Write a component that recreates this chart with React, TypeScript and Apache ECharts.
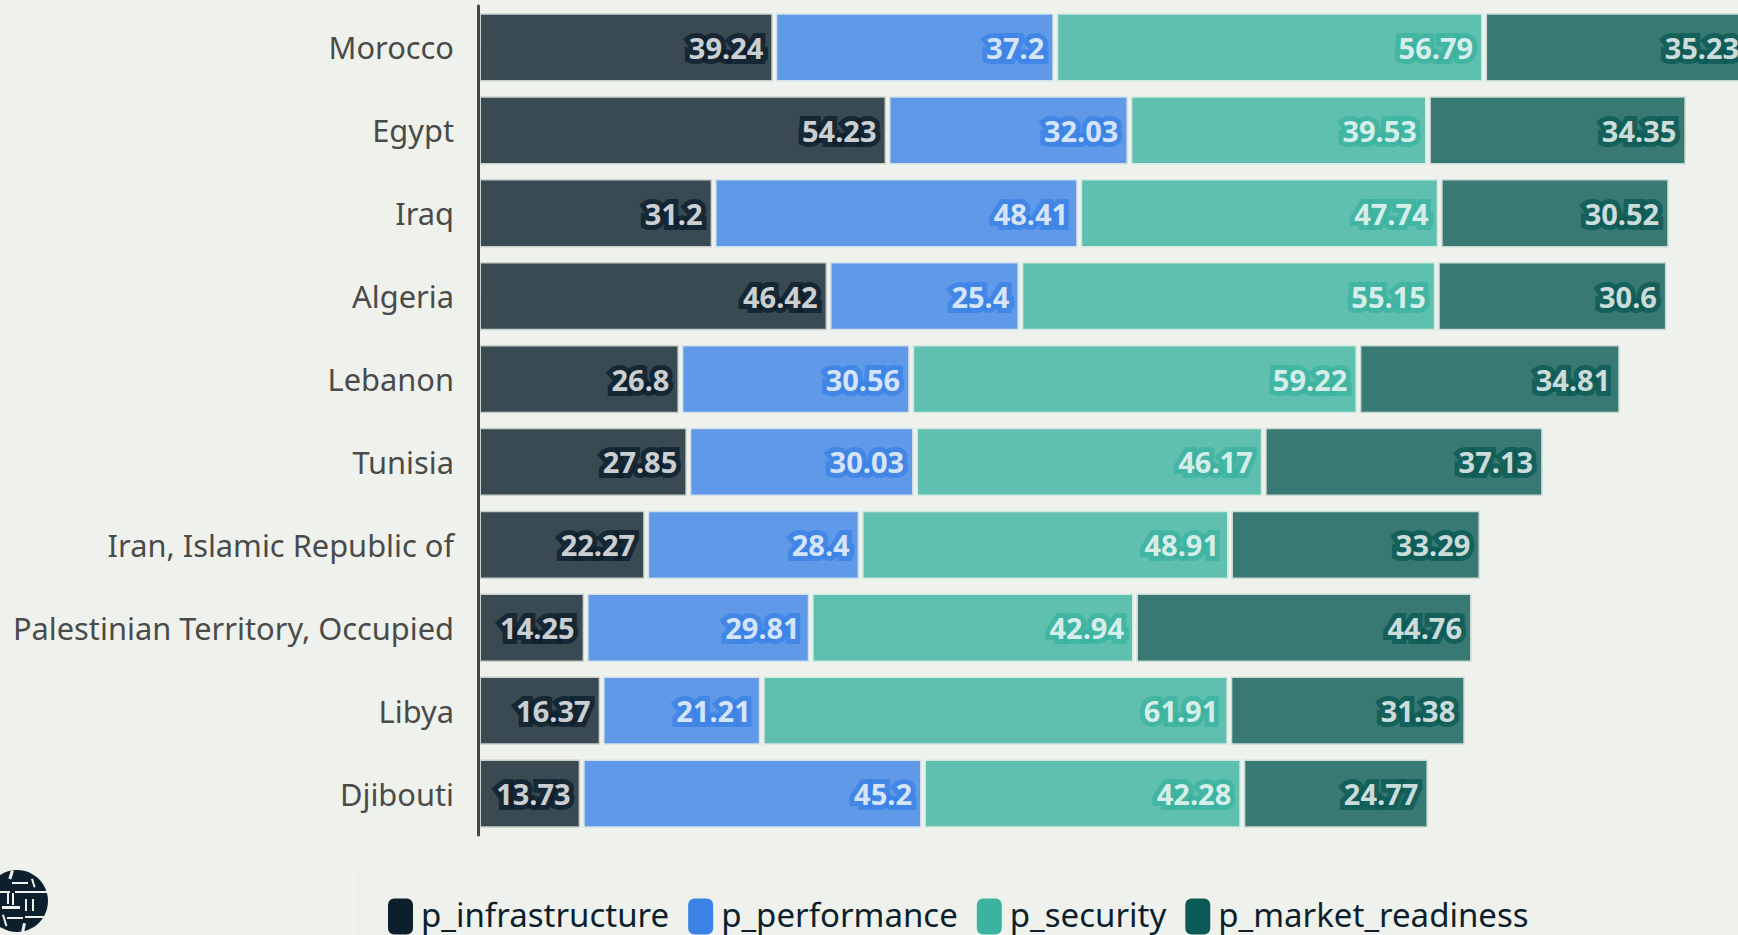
import React, { useEffect, useRef } from "react";
import * as echarts from "echarts";

const countries = ["Morocco", "Egypt", "Iraq", "Algeria", "Lebanon", "Tunisia", "Iran, Islamic Republic of", "Palestinian Territory, Occupied", "Libya", "Djibouti"];
const infrastructure = [39.24, 54.23, 31.2, 46.42, 26.8, 27.85, 22.27, 14.25, 16.37, 13.73];
const performance_ = [37.2, 32.03, 48.41, 25.4, 30.56, 30.03, 28.4, 29.81, 21.21, 45.2];
const security = [56.79, 39.53, 47.74, 55.15, 59.22, 46.17, 48.91, 42.94, 61.91, 42.28];
const marketReadiness = [35.23, 34.35, 30.52, 30.6, 34.81, 37.13, 33.29, 44.76, 31.38, 24.77];
const FONT = "'Noto Sans', sans-serif";
const BG = "#EFF2EC";
const INK = "#0D1F2D";

const seriesDefs = [
  { name: "p_infrastructure", color: INK, data: infrastructure },
  { name: "p_performance", color: "#3B82E6", data: performance_ },
  { name: "p_security", color: "#3BB3A0", data: security },
  { name: "p_market_readiness", color: "#0B5A55", data: marketReadiness },
];

const bar = (x: number, y: number, width: number, height: number, rotation = 0) => ({
  type: "rect", x, y, rotation, shape: { x: 0, y: 0, width, height }, style: { fill: BG }, silent: true,
});

export default function App() {
  const ref = useRef<HTMLDivElement>(null);
  useEffect(() => {
    document.body.style.margin = "0";
    document.body.style.background = BG;
    const chart = echarts.init(ref.current!, undefined, { renderer: "svg" });
    chart.setOption({
      animation: false,
      backgroundColor: BG,
      grid: { left: 478, top: 6, width: 1280, height: 829, containLabel: false },
      xAxis: { type: "value", min: 0, max: 169.5, show: false },
      yAxis: {
        type: "category",
        inverse: true,
        data: countries,
        z: 10,
        axisLine: { lineStyle: { color: "#444", width: 3 } },
        axisTick: { length: 16, alignWithLabel: true, lineStyle: { color: "#444", width: 2 } },
        axisLabel: { margin: 24, fontSize: 30.8, fontFamily: FONT, color: "#4A4A4A" },
      },
      legend: {
        left: 388, top: 898, padding: 0,
        itemWidth: 25, itemHeight: 36, itemGap: 19, icon: "roundRect",
        formatter: "{t|{name}}",
        textStyle: {
          fontSize: 33, fontFamily: FONT, color: INK,
          rich: { t: { fontSize: 33, fontFamily: FONT, color: INK, padding: [0, 0, 4, 3] } },
        },
        itemStyle: { opacity: 1, borderWidth: 0 },
      },
      graphic: [{
        type: "group", silent: true,
        children: [
          { type: "rect", shape: { x: 357, y: 870, width: 3, height: 65 }, style: { fill: "#EDEFEC" } },
          { type: "circle", shape: { cx: 17, cy: 901, r: 31 }, style: { fill: INK } },
          bar(12, 882, 16, 2), bar(15, 891, 33, 2), bar(-14, 891, 24, 2), bar(2, 906, 18, 3),
          bar(25, 916, 20, 2), bar(7, 917, 16, 2), bar(7, 892, 2, 12), bar(12, 893, 2, 12),
          bar(25, 899, 2, 12), bar(32, 899, 2, 12),
          bar(11, 870, 3, 9, -0.3), bar(31, 879, 2, 9, 0.3), bar(23, 923, 3, 9, -0.2), bar(2, 915, 2, 12, 0.3),
        ],
      }],
      series: seriesDefs.map((s) => ({
        type: "bar",
        name: s.name,
        stack: "total",
        data: s.data,
        barWidth: "86%",
        itemStyle: { color: s.color, opacity: 0.8, borderColor: BG, borderWidth: 3 },
        label: {
          show: true, position: "insideRight", distance: 11,
          fontSize: 29, fontWeight: 700, fontFamily: FONT,
          color: "#fff", textBorderColor: s.color, textBorderWidth: 10,
        },
      })),
    });
    return () => chart.dispose();
  }, []);
  return (
    <div style={{ position: "fixed", left: 0, top: 0, width: 1738, height: 935, overflow: "hidden" }}>
      <div ref={ref} style={{ width: 1800, height: 935 }} />
    </div>
  );
}
